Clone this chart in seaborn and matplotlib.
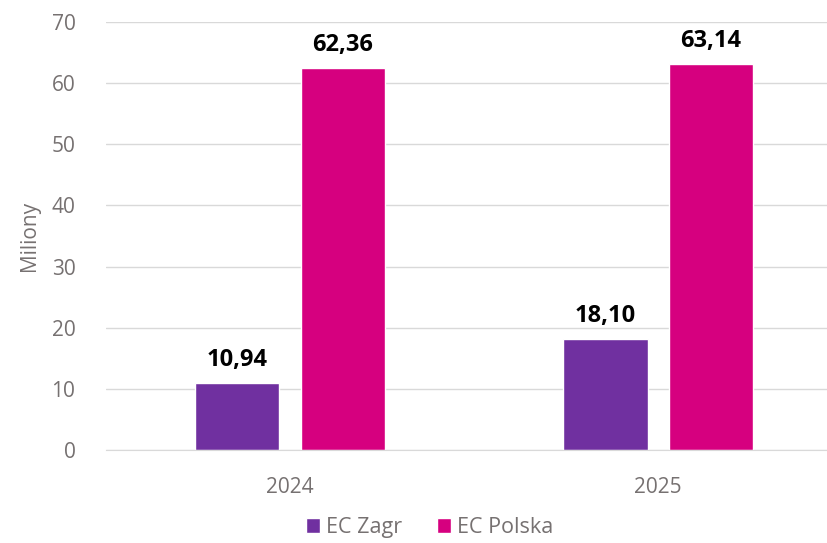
import pandas as pd
import seaborn as sns
import matplotlib.pyplot as plt

years = ['2024', '2025']
series = ['EC Zagr', 'EC Polska']
ec_zagr = [10.94, 18.10]
ec_polska = [62.36, 63.14]
colors = ['#7030A0', '#D6007F']

df = pd.DataFrame({
    'rok': years * 2,
    'seria': [series[0]] * 2 + [series[1]] * 2,
    'wartosc': ec_zagr + ec_polska,
})

sns.set_style('white')
plt.rcParams['font.family'] = ['Open Sans', 'DejaVu Sans']
gray = '#767171'

fig = plt.figure(figsize=(8.28, 5.43), dpi=100)
ax = fig.add_axes([0.128, 0.171, 0.889, 0.789])

sns.barplot(data=df, x='rok', y='wartosc', hue='seria', hue_order=series,
            palette=colors, width=0.571, gap=0.2, saturation=1, ax=ax)

for container in ax.containers:
    ax.bar_label(container, labels=[f'{v:.2f}'.replace('.', ',') for v in container.datavalues],
                 padding=8, fontsize=17, fontweight='bold', color='black')

ax.set_xlim(-0.5, 1.5)
ax.set_ylim(0, 70)
ax.set_yticks(range(0, 71, 10))
ax.yaxis.grid(True, color='#D9D9D9', linewidth=1)
ax.set_axisbelow(True)
for side in ['top', 'right', 'left']:
    ax.spines[side].set_visible(False)
ax.spines['bottom'].set_color('#D9D9D9')
ax.tick_params(axis='both', length=0, labelsize=15, labelcolor=gray)
ax.tick_params(axis='x', pad=19)
ax.tick_params(axis='y', pad=22)
ax.set_xlabel('')
ax.set_ylabel('Miliony', fontsize=15, color=gray, labelpad=8)

ax.legend(loc='lower center', bbox_to_anchor=(0.44, -0.25), ncol=2, frameon=False,
          fontsize=15.5, labelcolor=gray, handlelength=0.65, handleheight=0.65,
          handletextpad=0.3, columnspacing=1.6)

plt.savefig('out.png', dpi=100)
plt.close()
